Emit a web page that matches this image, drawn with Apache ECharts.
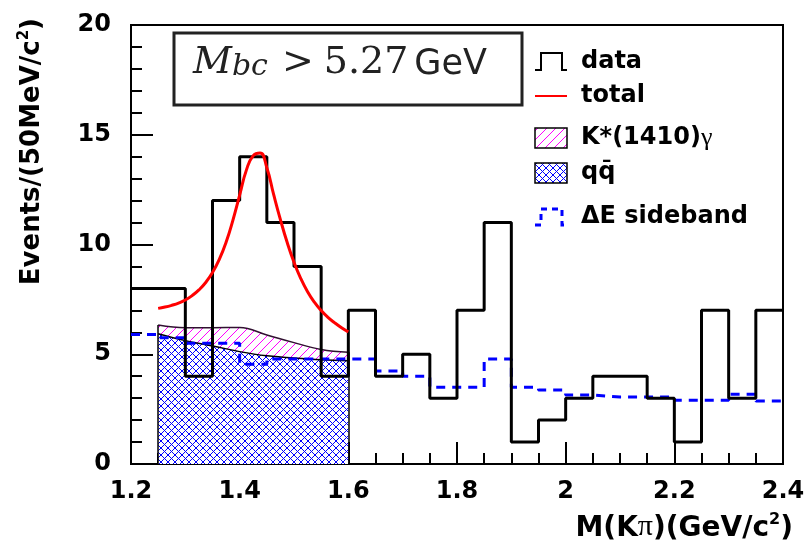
<!DOCTYPE html>
<html>
<head>
<meta charset="utf-8">
<script src="https://cdn.jsdelivr.net/npm/echarts@6/dist/echarts.min.js"></script>
<style>
  html, body { margin: 0; padding: 0; background: #fff; }
  #main { width: 808px; height: 550px; }
</style>
</head>
<body>
<div id="main"></div>
<script>
'use strict';

// 直方图分箱 (50 MeV)
const xMin = 1.2;
const xMax = 2.4;
const binWidth = 0.05;

// data 直方图
const dataCounts = [8, 8, 4, 12, 14, 11, 9, 4, 7, 4, 5, 3, 7, 11, 1, 2, 3, 4, 4, 3, 1, 7, 3, 7];

// ΔE sideband 直方图
const sidebandCounts = [5.9, 5.75, 5.5, 5.5, 4.55, 4.78, 4.78, 4.78, 4.78, 4.24, 4.0, 3.5,
                        3.5, 4.78, 3.5, 3.37, 3.14, 3.05, 3.05, 3.05, 2.9, 2.9, 3.18, 2.87];

// total 拟合曲线 (每 12.5 MeV 读一点)
const totalX = [1.25, 1.2625, 1.275, 1.2875, 1.30, 1.3125, 1.325, 1.3375, 1.35, 1.3625,
                1.375, 1.3875, 1.40, 1.4125, 1.425, 1.4375, 1.45, 1.4625, 1.475, 1.4875,
                1.50, 1.5125, 1.525, 1.5375, 1.55, 1.5625, 1.575, 1.5875, 1.60];
const totalY = [7.09, 7.15, 7.23, 7.33, 7.47, 7.67, 7.93, 8.27, 8.72, 9.32,
                10.1, 11.1, 12.25, 13.4, 14.05, 14.17, 13.5, 12.28, 11.13, 10.09,
                9.19, 8.45, 7.85, 7.37, 6.99, 6.68, 6.43, 6.21, 6.02];

// qq 背景 与 qq + K*(1410)γ
const compX = [1.25, 1.30, 1.35, 1.40, 1.45, 1.50, 1.55, 1.60];
const qqY = [5.93, 5.62, 5.38, 5.12, 4.93, 4.83, 4.75, 4.7];
const sigTopY = [6.33, 6.21, 6.21, 6.22, 5.88, 5.53, 5.22, 5.09];

// 刻度标签
const xTickValues = [1.2, 1.4, 1.6, 1.8, 2.0, 2.2, 2.4];
const xTickLabels = ['1.2', '1.4', '1.6', '1.8', '2', '2.2', '2.4'];
const yTickValues = [0, 5, 10, 15, 20];
const yTickLabels = ['0', '5', '10', '15', '20'];

const BOLD_FONT = 'DejaVu Sans';

// 斜线填充图案
function makeHatch(color, cross, size, bg) {
    const c = document.createElement('canvas');
    c.width = size;
    c.height = size;
    const ctx = c.getContext('2d');
    if (bg) {
        ctx.fillStyle = bg;
        ctx.fillRect(0, 0, size, size);
    }
    ctx.strokeStyle = color;
    ctx.lineWidth = 1;
    ctx.beginPath();
    ctx.moveTo(-1, size + 1); ctx.lineTo(size + 1, -1);
    ctx.moveTo(-1, 1); ctx.lineTo(1, -1);
    ctx.moveTo(size - 1, size + 1); ctx.lineTo(size + 1, size - 1);
    if (cross) {
        ctx.moveTo(-1, -1); ctx.lineTo(size + 1, size + 1);
        ctx.moveTo(size - 1, -1); ctx.lineTo(size + 1, 1);
        ctx.moveTo(-1, size - 1); ctx.lineTo(1, size + 1);
    }
    ctx.stroke();
    return c;
}

const magentaHatch = { image: makeHatch('#ff00ff', false, 9, null), repeat: 'repeat' };
const blueCross = { image: makeHatch('#0000ff', true, 7, '#ffffff'), repeat: 'repeat' };

// 直方图转阶梯点
function histPoints(counts) {
    const pts = counts.map((v, i) => [xMin + binWidth * i, v]);
    pts.push([xMax, counts[counts.length - 1]]);
    return pts;
}

function pickLabel(values, labels) {
    return v => {
        const i = values.findIndex(t => Math.abs(t - v) < 1e-6);
        return i >= 0 ? labels[i] : '';
    };
}

const last = compX.length - 1;

const chart = echarts.init(document.getElementById('main'));

const option = {
    animation: false,
    backgroundColor: '#fff',
    grid: {
        left: 131, right: 25, top: 25, bottom: 86,
        show: true, borderColor: '#000', borderWidth: 2,
        outerBoundsMode: 'none'
    },
    xAxis: {
        type: 'value',
        min: xMin,
        max: xMax,
        interval: 0.2,
        axisLine: { lineStyle: { color: '#000', width: 2 } },
        axisTick: { inside: true, length: 22, lineStyle: { color: '#000', width: 2 } },
        minorTick: { show: true, splitNumber: 4, length: 11, lineStyle: { color: '#000', width: 2 } },
        splitLine: { show: false },
        axisLabel: {
            margin: 16, fontSize: 24, fontWeight: 'bold', fontFamily: BOLD_FONT, color: '#000',
            formatter: pickLabel(xTickValues, xTickLabels)
        }
    },
    yAxis: {
        type: 'value',
        min: 0,
        max: 20,
        interval: 5,
        axisLine: { lineStyle: { color: '#000', width: 2 } },
        axisTick: { inside: true, length: 22, lineStyle: { color: '#000', width: 2 } },
        minorTick: { show: true, splitNumber: 5, length: 11, lineStyle: { color: '#000', width: 2 } },
        splitLine: { show: false },
        axisLabel: {
            margin: 20, fontSize: 24, fontWeight: 'bold', fontFamily: BOLD_FONT, color: '#000',
            formatter: pickLabel(yTickValues, yTickLabels)
        }
    },
    series: [
        {
            name: 'K*(1410)γ',
            type: 'line',
            data: compX.map((x, i) => [x, sigTopY[i]]),
            smooth: 0.4,
            symbol: 'none',
            z: 2,
            lineStyle: { color: '#301030', width: 1.5 },
            areaStyle: { color: magentaHatch, opacity: 1 }
        },
        {
            name: 'qq',
            type: 'line',
            data: compX.map((x, i) => [x, qqY[i]]),
            smooth: 0.4,
            symbol: 'none',
            z: 3,
            lineStyle: { color: '#000', width: 1.5 },
            areaStyle: { color: blueCross, opacity: 1 },
            markLine: {
                silent: true,
                symbol: 'none',
                label: { show: false },
                lineStyle: { color: '#000', width: 1.5, type: 'solid' },
                data: [
                    [{ coord: [compX[0], 0] }, { coord: [compX[0], sigTopY[0]] }],
                    [{ coord: [compX[last], 0] }, { coord: [compX[last], sigTopY[last]] }]
                ]
            }
        },
        {
            name: 'ΔE sideband',
            type: 'line',
            step: 'end',
            data: histPoints(sidebandCounts),
            symbol: 'none',
            z: 4,
            lineStyle: { color: '#0000ff', width: 3, type: [9, 7] }
        },
        {
            name: 'data',
            type: 'line',
            step: 'end',
            data: histPoints(dataCounts),
            symbol: 'none',
            z: 5,
            lineStyle: { color: '#000', width: 3 }
        },
        {
            name: 'total',
            type: 'line',
            data: totalX.map((x, i) => [x, totalY[i]]),
            smooth: 0.5,
            symbol: 'none',
            z: 6,
            lineStyle: { color: '#ff0000', width: 3 }
        }
    ],
    graphic: [
        // 轴标题
        {
            type: 'text', x: 31, y: 18, rotation: Math.PI / 2, z: 10,
            style: {
                text: '{n|Events/(50MeV/c}{s|2}{n|)}',
                align: 'right', verticalAlign: 'middle',
                rich: {
                    n: { fontSize: 26, fontWeight: 'bold', fontFamily: BOLD_FONT, fill: '#000', verticalAlign: 'bottom', lineHeight: 29 },
                    s: { fontSize: 15, fontWeight: 'bold', fontFamily: BOLD_FONT, fill: '#000', verticalAlign: 'top', lineHeight: 16 }
                }
            }
        },
        {
            type: 'text', x: 793, y: 527, z: 10,
            style: {
                text: '{n|M(K}{p|π}{n|)(GeV/c}{s|2}{n|)}',
                align: 'right', verticalAlign: 'middle',
                rich: {
                    n: { fontSize: 28, fontWeight: 'bold', fontFamily: BOLD_FONT, fill: '#000', verticalAlign: 'bottom', lineHeight: 31 },
                    p: { fontSize: 30, fontFamily: 'Liberation Serif', fill: '#000', verticalAlign: 'bottom', lineHeight: 31 },
                    s: { fontSize: 16, fontWeight: 'bold', fontFamily: BOLD_FONT, fill: '#000', verticalAlign: 'top', lineHeight: 18 }
                }
            }
        },
        // M_bc 框
        {
            type: 'rect', z: 10,
            shape: { x: 174, y: 33, width: 348, height: 72 },
            style: { fill: '#fff', stroke: '#222', lineWidth: 3 }
        },
        {
            type: 'text', x: 193, y: 63, z: 11,
            style: {
                text: '{m|M}{s|bc}{o|>}{n|5.27}{g|GeV}',
                align: 'left', verticalAlign: 'middle',
                rich: {
                    m: { fontSize: 38, fontStyle: 'italic', fontFamily: 'DejaVu Serif', fill: '#222', verticalAlign: 'bottom', lineHeight: 38 },
                    s: { fontSize: 30, fontStyle: 'italic', fontFamily: 'DejaVu Serif', fill: '#222', verticalAlign: 'bottom', lineHeight: 5 },
                    o: { fontSize: 38, fontFamily: 'DejaVu Serif', fill: '#222', verticalAlign: 'bottom', lineHeight: 38, padding: [0, 0, 0, 14] },
                    n: { fontSize: 38, fontFamily: 'DejaVu Serif', fill: '#222', verticalAlign: 'bottom', lineHeight: 38, padding: [0, 0, 0, 10] },
                    g: { fontSize: 35, fontFamily: 'DejaVu Sans', fill: '#222', verticalAlign: 'bottom', lineHeight: 35, padding: [0, 0, 0, 6] }
                }
            }
        },
        // 图例
        {
            type: 'polyline', z: 10,
            shape: { points: [[535, 70], [541, 70], [541, 53], [562, 53], [562, 70], [567, 70]] },
            style: { stroke: '#000', lineWidth: 2, fill: null }
        },
        {
            type: 'text', x: 581, y: 62, z: 10,
            style: { text: 'data', fontSize: 24, fontWeight: 'bold', fontFamily: BOLD_FONT, fill: '#000', verticalAlign: 'middle' }
        },
        {
            type: 'line', z: 10,
            shape: { x1: 535, y1: 96, x2: 567, y2: 96 },
            style: { stroke: '#ff0000', lineWidth: 2 }
        },
        {
            type: 'text', x: 581, y: 96, z: 10,
            style: { text: 'total', fontSize: 24, fontWeight: 'bold', fontFamily: BOLD_FONT, fill: '#000', verticalAlign: 'middle' }
        },
        {
            type: 'rect', z: 10,
            shape: { x: 535, y: 128, width: 32, height: 20 },
            style: { fill: magentaHatch, stroke: '#000', lineWidth: 1.5 }
        },
        {
            type: 'text', x: 581, y: 138, z: 10,
            style: {
                text: '{b|K*(1410)}{g|γ}',
                verticalAlign: 'middle',
                rich: {
                    b: { fontSize: 24, fontWeight: 'bold', fontFamily: BOLD_FONT, fill: '#000' },
                    g: { fontSize: 26, fontFamily: 'Liberation Serif', fill: '#000' }
                }
            }
        },
        {
            type: 'rect', z: 10,
            shape: { x: 535, y: 163, width: 32, height: 20 },
            style: { fill: blueCross, stroke: '#000', lineWidth: 1.5 }
        },
        {
            type: 'text', x: 581, y: 173, z: 10,
            style: { text: 'qq\u0304', fontSize: 24, fontWeight: 'bold', fontFamily: BOLD_FONT, fill: '#000', verticalAlign: 'middle' }
        },
        {
            type: 'polyline', z: 10,
            shape: { points: [[535, 225], [541, 225], [541, 209], [562, 209], [562, 225], [567, 225]] },
            style: { stroke: '#0000ff', lineWidth: 3, fill: null, lineDash: [6, 5] }
        },
        {
            type: 'text', x: 581, y: 217, z: 10,
            style: { text: 'ΔE sideband', fontSize: 24, fontWeight: 'bold', fontFamily: BOLD_FONT, fill: '#000', verticalAlign: 'middle' }
        }
    ]
};

chart.setOption(option);
</script>
</body>
</html>
